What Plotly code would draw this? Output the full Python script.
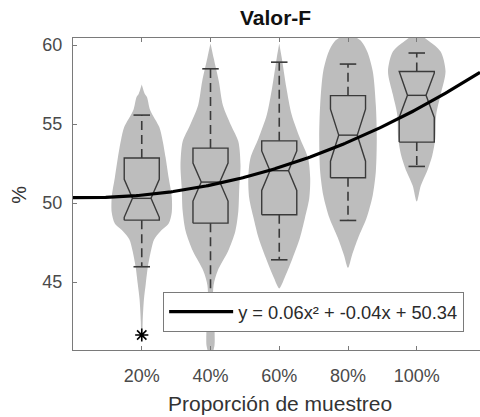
import numpy as np
import plotly.graph_objects as go

# ---------------- data ----------------
labels = ["20%", "40%", "60%", "80%", "100%"]
positions = [2, 4, 6, 8, 10]          # sampling proportion / 10

q1 = [48.92, 48.73, 49.26, 51.60, 53.86]
median = [50.30, 51.33, 52.05, 54.30, 56.82]
q3 = [52.85, 53.48, 53.94, 56.80, 58.33]
notch_half = [1.20, 1.20, 1.25, 1.65, 1.40]
lower_whisker = [45.97, 42.00, 46.41, 48.90, 52.32]
upper_whisker = [55.57, 58.50, 58.92, 58.80, 59.50]

outlier_pos = [2]
outlier_val = [41.65]

# violin outlines: value levels and relative density (half-width, 1 = widest)
violin_levels = [
    [41.3, 42.5, 43.9, 44.9, 46.0, 47.0, 47.7, 48.2, 48.7, 49.4, 50.4, 51.6, 52.9, 54.0, 54.8, 55.9, 56.7, 56.9, 57.5],
    [40.5, 41.0, 42.0, 43.5, 44.8, 45.7, 46.96, 48.2, 49.5, 50.95, 52.4, 53.9, 54.9, 56.2, 57.7, 59.2, 60.1],
    [44.6, 45.25, 46.5, 47.8, 49.05, 50.3, 51.6, 52.85, 54.1, 55.6, 57.3, 59.2, 60.1],
    [45.9, 46.7, 47.8, 49.05, 50.5, 52.0, 54.1, 56.2, 58.35, 59.6, 60.3, 60.6],
    [50.1, 51.1, 52.0, 53.0, 54.1, 55.6, 56.85, 58.35, 59.6, 60.25, 60.6],
]
violin_density = [
    [0.02, 0.03, 0.07, 0.13, 0.20, 0.30, 0.40, 0.60, 0.87, 0.97, 0.97, 0.87, 0.77, 0.67, 0.57, 0.27, 0.17, 0.10, 0.0],
    [0.07, 0.13, 0.13, 0.08, 0.10, 0.23, 0.57, 0.80, 0.90, 0.93, 0.97, 0.90, 0.67, 0.40, 0.27, 0.10, 0.0],
    [0.0, 0.17, 0.43, 0.67, 0.83, 0.97, 1.00, 0.93, 0.67, 0.40, 0.23, 0.08, 0.0],
    [0.0, 0.13, 0.33, 0.60, 0.80, 0.90, 0.93, 0.90, 0.80, 0.62, 0.40, 0.12],
    [0.0, 0.13, 0.33, 0.50, 0.60, 0.63, 0.77, 0.93, 0.77, 0.40, 0.12],
]

fit_coef = [0.06, -0.04, 50.34]       # y = a x^2 + b x + c
fit_label = "y = 0.06x² + -0.04x + 50.34"

x_label = "Proporción de muestreo"
y_label = "%"
title = "Valor-F"

# ---------------- styling ----------------
X_MAX = 11.84
VIOLIN_SCALE = 0.90       # x-units for density 1
BOX_HALF = 0.51
NOTCH_HALF_W = 0.27
CAP_HALF = 0.24
VIOLIN_COLOR = "#bdbdbd"
EDGE = "#3a3a3a"
AXIS = "#7a7a7a"
TXT = "#4a4a4a"
FONT = "Liberation Sans, Arial, sans-serif"

fig = go.Figure()

# violins
for pos, lv, dn in zip(positions, violin_levels, violin_density):
    lv = list(lv)
    dn = list(dn)
    xs = [pos + d * VIOLIN_SCALE for d in dn] + [pos - d * VIOLIN_SCALE for d in dn[::-1]]
    ys = lv + lv[::-1]
    fig.add_trace(go.Scatter(
        x=xs, y=ys, mode="lines", fill="toself", fillcolor=VIOLIN_COLOR,
        line=dict(width=0, color=VIOLIN_COLOR, shape="spline", smoothing=0.8),
        hoverinfo="skip", showlegend=False))

# notched boxes with median line
bx, by = [], []
for pos, a, m, b, ns in zip(positions, q1, median, q3, notch_half):
    L, R = pos - BOX_HALF, pos + BOX_HALF
    nl, nr = pos - NOTCH_HALF_W, pos + NOTCH_HALF_W
    bx += [L, L, nl, L, L, R, R, nr, R, R, L, None, nl, nr, None]
    by += [a, m - ns, m, m + ns, b, b, m + ns, m, m - ns, a, a, None, m, m, None]
fig.add_trace(go.Scatter(x=bx, y=by, mode="lines",
                         line=dict(color=EDGE, width=1.4),
                         hoverinfo="skip", showlegend=False))

# dashed whiskers
wx, wy = [], []
for pos, lo, a, b, hi in zip(positions, lower_whisker, q1, q3, upper_whisker):
    wx += [pos, pos, None, pos, pos, None]
    wy += [b, hi, None, a, lo, None]
fig.add_trace(go.Scatter(x=wx, y=wy, mode="lines",
                         line=dict(color=EDGE, width=1.6, dash="9px,5px"),
                         hoverinfo="skip", showlegend=False))
# whisker caps
cx, cy = [], []
for pos, lo, hi in zip(positions, lower_whisker, upper_whisker):
    cx += [pos - CAP_HALF, pos + CAP_HALF, None, pos - CAP_HALF, pos + CAP_HALF, None]
    cy += [hi, hi, None, lo, lo, None]
fig.add_trace(go.Scatter(x=cx, y=cy, mode="lines", line=dict(color=EDGE, width=1.6),
                         hoverinfo="skip", showlegend=False))

# outliers
fig.add_trace(go.Scatter(x=outlier_pos, y=outlier_val, mode="markers",
                         marker=dict(symbol="asterisk-open", size=11, color="black",
                                     line=dict(color="black", width=1.6)),
                         hoverinfo="skip", showlegend=False))

# quadratic fit
xf = np.linspace(0, X_MAX, 200)
yf = fit_coef[0] * xf ** 2 + fit_coef[1] * xf + fit_coef[2]
fig.add_trace(go.Scatter(x=xf, y=yf, mode="lines", name=fit_label,
                         line=dict(color="black", width=3.2), hoverinfo="skip"))

fig.update_layout(
    width=480, height=417,
    margin=dict(l=73, r=0, t=38, b=67, autoexpand=False),
    paper_bgcolor="white", plot_bgcolor="white",
    font=dict(family=FONT, size=18, color=TXT),
    showlegend=True,
    legend=dict(x=0.221, y=0.186, xanchor="left", yanchor="top",
                bgcolor="white", bordercolor=AXIS, borderwidth=1.2,
                font=dict(size=18.3, color="#2a2a2a"), itemwidth=64,
                tracegroupgap=0),
    xaxis=dict(range=[0, X_MAX], tickvals=positions, ticktext=labels,
               automargin=False,
               showgrid=False, zeroline=False, showline=True, mirror="ticks",
               linecolor=AXIS, linewidth=1.3, ticks="inside", ticklen=4,
               tickcolor=AXIS, tickfont=dict(size=18, color=TXT),
               ticklabelstandoff=9),
    yaxis=dict(range=[40.7, 60.45], tickvals=[45, 50, 55, 60],
               automargin=False,
               showgrid=False, zeroline=False, showline=True, mirror=False,
               linecolor=AXIS, linewidth=1.3, ticks="inside", ticklen=4,
               tickcolor=AXIS, tickfont=dict(size=18, color=TXT),
               ticklabelstandoff=6),
    annotations=[
        dict(text="<b>%s</b>" % title, xref="paper", yref="paper", x=0.4975, y=1.0657,
             xanchor="center", yanchor="middle", showarrow=False,
             font=dict(size=21, color="#111111")),
        dict(text=x_label, xref="paper", yref="paper", x=0.509, y=-0.17,
             xanchor="center", yanchor="middle", showarrow=False,
             font=dict(size=21, color="#333333")),
        dict(text=y_label, xref="paper", yref="paper", x=-0.133, y=0.497,
             xanchor="center", yanchor="middle", showarrow=False, textangle=-90,
             font=dict(size=20, color="#333333")),
    ],
)

# remove the browser's default body margin so the 480x417 figure fills the window exactly
fig.write_html("out.html",
               config={"displayModeBar": False},
               post_script="document.body.style.margin='0';document.body.style.overflow='hidden';")
